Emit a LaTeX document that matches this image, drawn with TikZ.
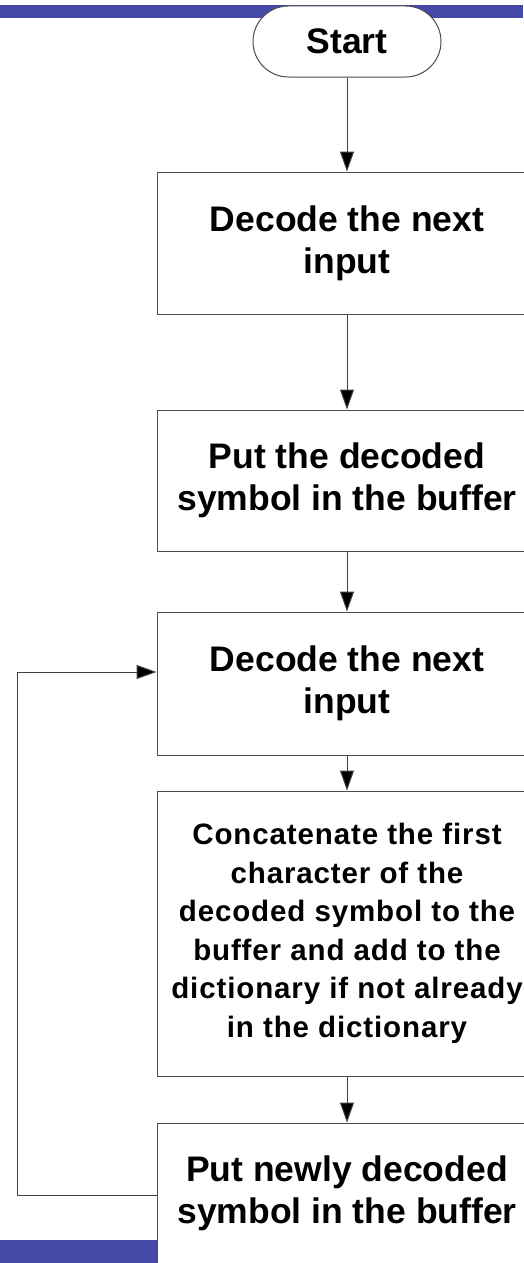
\documentclass[tikz,border=0pt]{standalone}
\usepackage{fontspec}
\setmainfont{Liberation Sans}
\newfontfamily\bigfont{Liberation Sans}[BoldFont={* Bold}]
\newfontfamily\smallfont{Liberation Sans}[BoldFont={* Bold},LetterSpace=3]
\usetikzlibrary{arrows.meta,shapes.misc}
\definecolor{barblue}{RGB}{68,73,168}
\tikzset{
  flowbox/.style={rectangle, draw=black!70, line width=1pt, fill=white,
    minimum width=380pt, align=center, inner sep=0pt},
  bigtext/.style={font=\bigfont\bfseries\fontsize{35.5}{42}\selectfont},
  smalltext/.style={font=\smallfont\bfseries\fontsize{29.5}{38.5}\selectfont},
  flowarrow/.style={draw=black!75, line width=1pt,
    -{Triangle[length=20pt,width=14pt,fill=black]}}
}
\begin{document}
\begin{tikzpicture}[x=1pt,y=-1pt]
\useasboundingbox (0,0) rectangle (523,1263);
% header and footer bands
\fill[barblue] (0,5) rectangle (523,18);
\fill[barblue] (0,1240) rectangle (160,1263);
% terminal
\node[rounded rectangle, draw=black!70, line width=1pt, fill=white,
  minimum width=188pt, minimum height=71pt, inner sep=0pt, bigtext]
  (start) at (347,41.5) {Start};
% process steps
\node[flowbox, minimum height=142pt, bigtext] (dec1) at (347,243)
  {Decode the next\\input};
\node[flowbox, minimum height=141pt, bigtext] (put1) at (347,480.5)
  {Put the decoded\\symbol in the buffer};
\node[flowbox, minimum height=143pt, bigtext] (dec2) at (347,683.5)
  {Decode the next\\input};
\node[flowbox, minimum height=285pt, smalltext] (cat) at (347,933.5)
  {Concatenate the first\\character of the\\decoded symbol to the\\buffer and add to the\\dictionary if not already\\in the dictionary};
\node[flowbox, minimum height=140pt, bigtext] (put2) at (347,1193)
  {Put newly decoded\\symbol in the buffer};
% connectors
\draw[flowarrow] (start) -- (dec1);
\draw[flowarrow] (dec1) -- (put1);
\draw[flowarrow] (put1) -- (dec2);
\draw[flowarrow] (dec2) -- (cat);
\draw[flowarrow] (cat) -- (put2);
% loop back
\coordinate (lb) at (17,1195);
\coordinate (lt) at (17,672);
\draw[flowarrow] (put2.west |- lb) -- (lb) -- (lt) -- (dec2.west |- lt);
\end{tikzpicture}
\end{document}
